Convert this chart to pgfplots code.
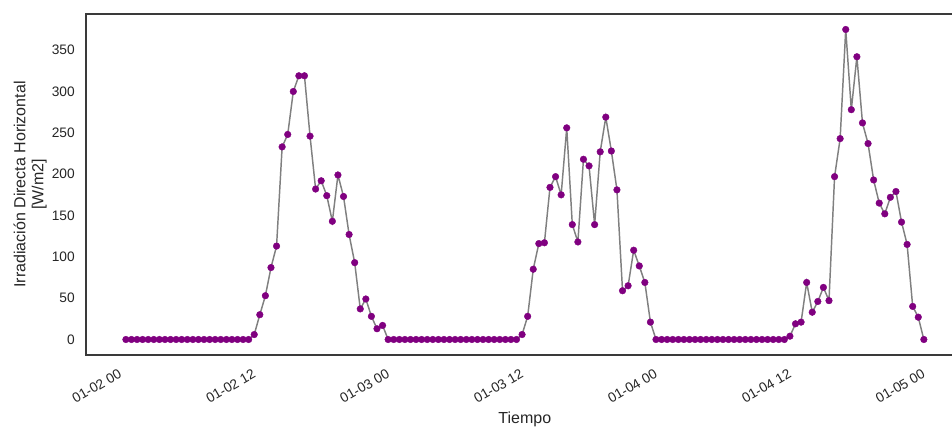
\documentclass[border=0pt]{standalone}
\usepackage{fontspec}
\setmainfont{Liberation Sans}
\usepackage{pgfplots}
\pgfplotsset{compat=1.18}
\definecolor{txt}{HTML}{262626}
\definecolor{spine}{HTML}{3A3A3A}
\definecolor{mk}{HTML}{800080}
\definecolor{ln}{HTML}{808080}
\begin{document}
\begin{tikzpicture}
\begin{axis}[
  scale only axis,
  width=658.3pt, height=255.75pt,
  xmin=-3.575, xmax=75.075,
  ymin=-18.75, ymax=393.75,
  axis line style={color=spine, line width=1.0pt},
  major tick length=0pt,
  tick style={draw=none},
  /pgf/number format/assume math mode=true,
  ytick={0,50,...,350},
  xtick={0,12,24,36,48,60,72},
  xticklabels={01-02 00,01-02 12,01-03 00,01-03 12,01-04 00,01-04 12,01-05 00},
  tick label style={font=\fontsize{10.3}{12}\selectfont, text=txt},
  yticklabel style={inner sep=0pt, anchor=east, xshift=-8.25pt},
  xticklabel style={inner sep=0pt, xshift=-6pt, yshift=-9.75pt, rotate=30, anchor=north east},
  xlabel={Tiempo},
  ylabel={Irradiación Directa Horizontal\\{[W/m2]}},
  label style={font=\fontsize{12}{13.5}\selectfont, text=txt},
  xlabel style={at={(axis description cs:0.5,0)}, anchor=north, inner sep=0pt, yshift=-42.75pt},
  ylabel style={at={(axis description cs:-0.0444,0.5)}, anchor=south, inner sep=0pt, align=center},
]
\addplot[color=ln, line width=1.1pt, mark=*, mark size=2.5pt,
  mark options={fill=mk, draw=mk, line width=0.3pt, solid}] coordinates {
(0,0)(0.5,0)(1,0)(1.5,0)(2,0)(2.5,0)(3,0)(3.5,0)(4,0)(4.5,0)(5,0)(5.5,0)
(6,0)(6.5,0)(7,0)(7.5,0)(8,0)(8.5,0)(9,0)(9.5,0)(10,0)(10.5,0)(11,0)
(11.5,6)(12,30)(12.5,53)(13,87)(13.5,113)(14,233)(14.5,248)(15,300)(15.5,319)
(16,319)(16.5,246)(17,182)(17.5,192)(18,174)(18.5,143)(19,199)(19.5,173)
(20,127)(20.5,93)(21,37)(21.5,49)(22,28)(22.5,13)(23,17)
(23.5,0)(24,0)(24.5,0)(25,0)(25.5,0)(26,0)(26.5,0)(27,0)(27.5,0)(28,0)(28.5,0)
(29,0)(29.5,0)(30,0)(30.5,0)(31,0)(31.5,0)(32,0)(32.5,0)(33,0)(33.5,0)(34,0)
(34.5,0)(35,0)
(35.5,6)(36,28)(36.5,85)(37,116)(37.5,117)(38,184)(38.5,197)(39,175)(39.5,256)
(40,139)(40.5,118)(41,218)(41.5,210)(42,139)(42.5,227)(43,269)(43.5,228)
(44,181)(44.5,59)(45,65)(45.5,108)(46,89)(46.5,69)(47,21)
(47.5,0)(48,0)(48.5,0)(49,0)(49.5,0)(50,0)(50.5,0)(51,0)(51.5,0)(52,0)(52.5,0)
(53,0)(53.5,0)(54,0)(54.5,0)(55,0)(55.5,0)(56,0)(56.5,0)(57,0)(57.5,0)(58,0)
(58.5,0)(59,0)
(59.5,4)(60,19)(60.5,21)(61,69)(61.5,33)(62,46)(62.5,63)(63,47)(63.5,197)
(64,243)(64.5,375)(65,278)(65.5,342)(66,262)(66.5,237)(67,193)(67.5,165)
(68,152)(68.5,172)(69,179)(69.5,142)(70,115)(70.5,40)(71,27)(71.5,0)
};
\end{axis}
\pgfresetboundingbox
\path[use as bounding box] ([xshift=-64.5pt,yshift=-54pt]current axis.south west) rectangle ([xshift=649.5pt,yshift=266.25pt]current axis.south west);
\end{tikzpicture}
\end{document}
